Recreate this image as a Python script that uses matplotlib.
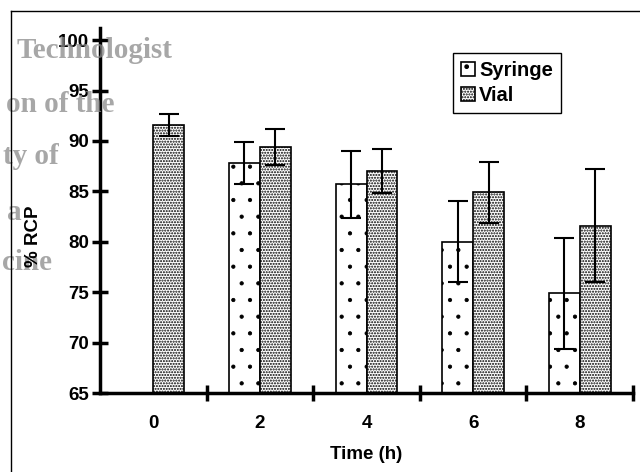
import numpy as np
import matplotlib
matplotlib.use("Agg")
import matplotlib.pyplot as plt
from matplotlib.lines import Line2D

plt.rcParams['font.family'] = ['Liberation Sans', 'DejaVu Sans']

# data
times = ['0', '2', '4', '6', '8']
syringe = [np.nan, 87.8, 85.7, 80.0, 74.9]
syringe_err = [np.nan, 2.1, 3.3, 4.0, 5.5]
vial = [91.55, 89.4, 87.0, 84.9, 81.6]
vial_err = [1.1, 1.8, 2.2, 3.05, 5.6]

fig = plt.figure(figsize=(6.4, 4.72), dpi=100)

# ghost text bleeding through the scan
ghost = [('Technologist', 172, 50), ('on of the', 115, 104), ('ty of', 59, 156),
         ('a', 22, 212), ('cine', 52, 263)]
for s, xr, yc in ghost:
    fig.text(xr / 640, 1 - yc / 472, s, ha='right', va='center', fontsize=21,
             family='Liberation Serif', fontweight='bold', color='#8a8a8a', alpha=0.75, zorder=0)

# frame of the scanned figure
fig.add_artist(Line2D([11 / 640, 1], [1 - 11 / 472] * 2, color='black', lw=1.0))
fig.add_artist(Line2D([11 / 640] * 2, [0, 1 - 11 / 472], color='black', lw=1.0))

ax = fig.add_axes([100 / 640, 79 / 472, 533 / 640, 365 / 472])
ax.patch.set_alpha(0)

x = np.arange(len(times))
w = 0.29
with plt.rc_context({'hatch.linewidth': 0.6}):
    ax.bar(x - w / 2, syringe, w, bottom=0, color='white', edgecolor='black', hatch='.',
           linewidth=1.2, label='Syringe', zorder=2)
with plt.rc_context({'hatch.linewidth': 1.0}):
    ax.bar(x + w / 2, vial, w, bottom=0, color='white', edgecolor='black', hatch='......',
           linewidth=1.2, label='Vial', zorder=2)
ax.errorbar(x - w / 2, syringe, yerr=syringe_err, fmt='none', ecolor='black',
            elinewidth=1.5, capsize=7, capthick=1.5, zorder=3)
ax.errorbar(x + w / 2, vial, yerr=vial_err, fmt='none', ecolor='black',
            elinewidth=1.5, capsize=7, capthick=1.5, zorder=3)

ax.set_ylim(65, 101.2)
ax.set_xlim(-0.5, 4.5)
ax.set_yticks(range(65, 101, 5))
ax.set_xticks(x)
ax.set_xticklabels(times)
ax.set_xticks(np.arange(0.5, 4.6, 1.0), minor=True)

for side in ['top', 'right']:
    ax.spines[side].set_visible(False)
for side in ['left', 'bottom']:
    ax.spines[side].set_linewidth(2.5)

ax.tick_params(axis='y', direction='inout', length=12, width=2.5, labelsize=13.5, pad=2)
ax.tick_params(axis='x', which='major', length=0, labelsize=13.5, pad=16)
ax.tick_params(axis='x', which='minor', direction='inout', length=12, width=2.5)
for lab in ax.get_xticklabels() + ax.get_yticklabels():
    lab.set_fontweight('bold')

ax.set_xlabel('Time (h)', fontsize=13.5, fontweight='bold', labelpad=10)
fig.text(33 / 640, 1 - 236 / 472, '% RCP', rotation=90, ha='center', va='center',
         fontsize=13.5, fontweight='bold')

leg = ax.legend(loc='upper left', bbox_to_anchor=(453 / 640, 1 - 53 / 472),
                bbox_transform=fig.transFigure, prop={'weight': 'bold', 'size': 14.5},
                fancybox=False, edgecolor='black', framealpha=1, handlelength=0.7,
                handleheight=0.7, handletextpad=0.2, borderpad=0.4, labelspacing=0.3,
                borderaxespad=0)
leg.get_frame().set_linewidth(1.0)

fig.savefig('out.png', dpi=100)
